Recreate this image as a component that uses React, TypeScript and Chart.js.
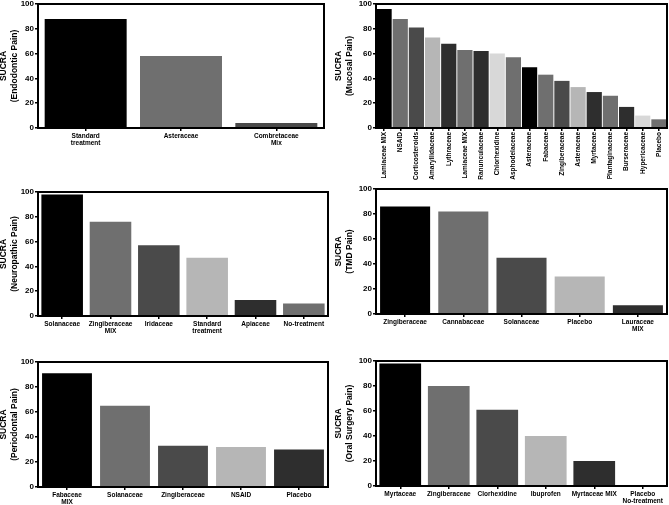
import React, { useEffect, useRef } from "react";
import { Chart, registerables } from "chart.js";

Chart.register(...registerables);

const C0 = "#000000";
const C1 = "#6f6f6f";
const C2 = "#4a4a4a";
const C3 = "#b6b6b6";
const C4 = "#2e2e2e";
const C5 = "#d8d8d8";

// Endodontic
const endoLabels = [["Standard", "treatment"], "Asteraceae", ["Combretaceae", "Mix"]];
const endoValues = [88, 58, 4];
const endoColors = [C0, C1, C2];

// Mucosal
const mucoLabels = [
  "Lamiaceae MIX", "NSAID", "Corticosteroids", "Amaryllidaceae", "Lythraceae",
  "Lamiaceae MIX", "Ranunculaceae", "Chlorhexidine", "Asphodelaceae", "Asteraceae",
  "Fabaceae", "Zingiberaceae", "Asteraceae", "Myrtaceae", "Plantaginaceae",
  "Burseraceae", "Hypericaceae", "Placebo",
];
const mucoValues = [96, 88, 81, 73, 68, 63, 62, 60, 57, 49, 43, 38, 33, 29, 26, 17, 10, 7];
const mucoColors = [C0, C1, C2, C3, C4, C1, C4, C5, C1, C0, C1, C2, C3, C4, C1, C4, C5, C1];

// Neuropathic
const neuroLabels = ["Solanaceae", ["Zingiberaceae", "MIX"], "Iridaceae", ["Standard", "treatment"], "Apiaceae", "No-treatment"];
const neuroValues = [98, 76, 57, 47, 13, 10];
const neuroColors = [C0, C1, C2, C3, C4, C1];

// TMD
const tmdLabels = ["Zingiberaceae", "Cannabaceae", "Solanaceae", "Placebo", ["Lauraceae", "MIX"]];
const tmdValues = [86, 82, 45, 30, 7];
const tmdColors = [C0, C1, C2, C3, C4];

// Periodontal
const perioLabels = [["Fabaceae", "MIX"], "Solanaceae", "Zingiberaceae", "NSAID", "Placebo"];
const perioValues = [91, 65, 33, 32, 30];
const perioColors = [C0, C1, C2, C3, C4];

// Oral surgery
const oralLabels = ["Myrtaceae", "Zingiberaceae", "Clorhexidine", "Ibuprofen", "Myrtaceae MIX", ["Placebo", "No-treatment"]];
const oralValues = [98, 80, 61, 40, 20, 0];
const oralColors = [C0, C1, C2, C3, C4, C1];

const yTicks = [0, 20, 40, 60, 80, 100];

const FONT = "'Liberation Sans', Arial, sans-serif";

type PanelProps = {
  left: number; top: number; w: number; h: number;
  area: { l: number; t: number; r: number; b: number };
  labels: any[]; values: number[]; colors: string[];
  title: string; rotate?: boolean; barPct?: number;
};

const boxPlugin = {
  id: "boxBorder",
  afterDatasetsDraw(chart: any) {
    const { ctx, chartArea } = chart;
    ctx.save();
    ctx.strokeStyle = "#000";
    ctx.lineWidth = 2;
    ctx.strokeRect(chartArea.left, chartArea.top, chartArea.right - chartArea.left, chartArea.bottom - chartArea.top);
    ctx.restore();
  },
};

function Panel(p: PanelProps) {
  const ref = useRef<HTMLCanvasElement>(null);
  useEffect(() => {
    if (!ref.current) return;
    const chart = new Chart(ref.current, {
      type: "bar",
      data: {
        labels: p.labels,
        datasets: [{ data: p.values, backgroundColor: p.colors, borderWidth: 0, categoryPercentage: 1, barPercentage: p.barPct ?? 0.86 }],
      },
      options: {
        responsive: false,
        animation: false,
        layout: { padding: { top: p.area.t, right: p.w - p.area.r, left: 0, bottom: 0 } },
        plugins: { legend: { display: false }, tooltip: { enabled: false } },
        scales: {
          x: {
            type: "category",
            grid: { display: true, drawOnChartArea: false, drawTicks: true, tickLength: 3, offset: false, color: "#000", lineWidth: 1.5 },
            border: { display: false },
            ticks: {
              autoSkip: false,
              color: "#000",
              padding: 1,
              font: { family: FONT, size: 6.5, weight: "bold", lineHeight: 1.2 },
              maxRotation: p.rotate ? 90 : 0,
              minRotation: p.rotate ? 90 : 0,
            },
            afterFit: (s: any) => {
              s.height = p.h - p.area.b;
              s.paddingLeft = 0; s.paddingRight = 0; s.paddingTop = 0; s.paddingBottom = 0;
            },
          },
          y: {
            min: 0, max: 100,
            afterBuildTicks: (s: any) => { s.ticks = yTicks.map((v) => ({ value: v })); },
            grid: { display: true, drawOnChartArea: false, drawTicks: true, tickLength: 3, color: "#000", lineWidth: 1.5 },
            border: { display: false },
            ticks: { color: "#000", padding: 1, font: { family: FONT, size: 8, weight: "bold" } },
            title: {
              display: true,
              text: ["SUCRA", p.title],
              color: "#000",
              font: { family: FONT, size: 8.5, weight: "bold", lineHeight: 1.2 },
              padding: { top: -1, bottom: 0 },
            },
            afterFit: (s: any) => {
              s.width = p.area.l;
              s.paddingLeft = 0; s.paddingRight = 0; s.paddingTop = 0; s.paddingBottom = 0;
            },
          },
        },
      } as any,
      plugins: [boxPlugin],
    });
    return () => chart.destroy();
  }, []);
  return (
    <canvas
      ref={ref}
      width={p.w}
      height={p.h}
      style={{ position: "absolute", left: p.left, top: p.top, width: p.w, height: p.h }}
    />
  );
}

export default function App() {
  return (
    <div style={{ position: "absolute", left: 0, top: 0, width: 669, height: 505, background: "#fff", overflow: "hidden" }}>
      <Panel left={0} top={0} w={335} h={160} area={{ l: 38, t: 4, r: 324, b: 128 }}
        labels={endoLabels} values={endoValues} colors={endoColors} title="(Endodontic Pain)" />
      <Panel left={335} top={0} w={334} h={185} area={{ l: 41, t: 4, r: 332, b: 128 }}
        labels={mucoLabels} values={mucoValues} colors={mucoColors} title="(Mucosal Pain)" rotate barPct={0.94} />
      <Panel left={0} top={185} w={335} h={155} area={{ l: 38, t: 7, r: 328, b: 131 }}
        labels={neuroLabels} values={neuroValues} colors={neuroColors} title="(Neuropathic Pain)" />
      <Panel left={335} top={185} w={334} h={150} area={{ l: 41, t: 4, r: 332, b: 129 }}
        labels={tmdLabels} values={tmdValues} colors={tmdColors} title="(TMD Pain)" />
      <Panel left={0} top={340} w={335} h={165} area={{ l: 38, t: 22, r: 328, b: 147 }}
        labels={perioLabels} values={perioValues} colors={perioColors} title="(Periodontal Pain)" />
      <Panel left={335} top={340} w={334} h={165} area={{ l: 41, t: 21, r: 332, b: 146 }}
        labels={oralLabels} values={oralValues} colors={oralColors} title="(Oral Surgery Pain)" />
    </div>
  );
}
